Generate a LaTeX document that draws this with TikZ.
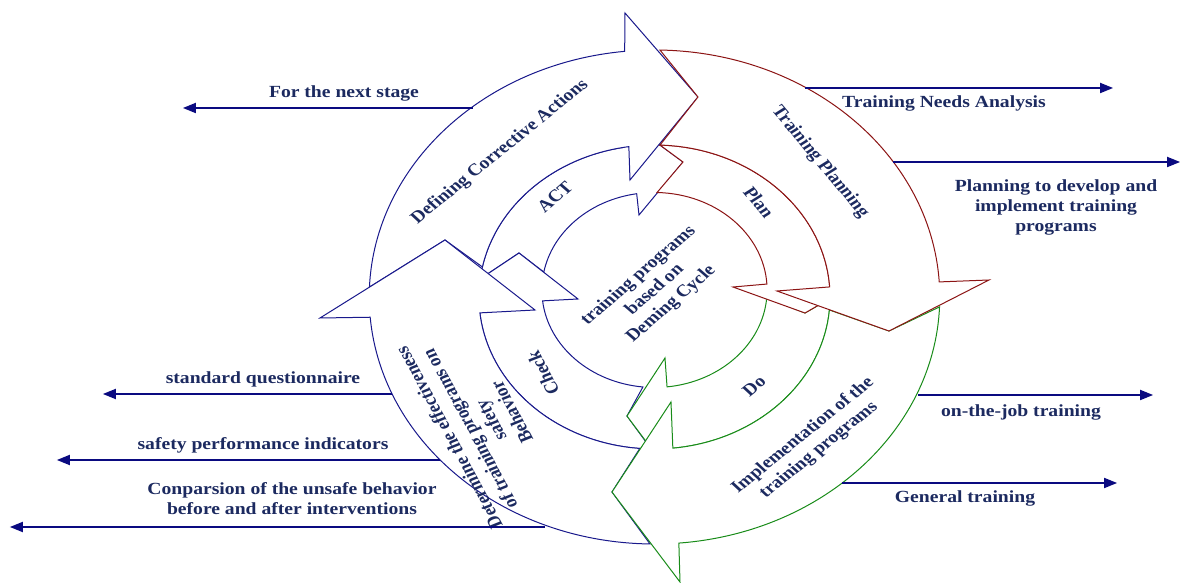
\documentclass[tikz,border=0pt]{standalone}
\usepackage{fontspec}
\setmainfont{Liberation Serif}
\usetikzlibrary{arrows.meta}
\definecolor{txt}{RGB}{28,42,96}
\definecolor{lead}{RGB}{10,10,128}
\definecolor{bl}{RGB}{25,25,140}
\definecolor{rd}{RGB}{140,20,20}
\definecolor{gn}{RGB}{25,140,25}
\def\pxparse#1,#2\relax{\pgfmathsetmacro\pxX{(#1-654.5)/1.155}\pgfmathsetmacro\pxY{297-(#2)}\pgfpointxy{\pxX}{\pxY}}
\tikzdeclarecoordinatesystem{px}{\pxparse#1\relax}
\begin{document}
\begin{tikzpicture}[x=1pt,y=1pt,xscale=1.155,
 band/.style={fill=white,line width=1pt,line join=miter,miter limit=20},
 lab/.style={text=txt,font=\fontsize{17}{20}\selectfont\bfseries,transform shape,inner sep=0pt},
 mlab/.style={lab,align=center},
 leader/.style={draw=lead,line width=1.8pt,-{Triangle[length=13pt,width=10pt]}}]
\fill[white] (px cs:0,0) rectangle (px cs:1181,583);
\useasboundingbox (px cs:0,0) rectangle (px cs:1181,583);
% ---- inner ring (ACT, Check, Do, Plan)
\draw[band,draw=bl] (173.2:152) arc[start angle=173.2,end angle=100,radius=152] -- (px cs:623,118) -- (px cs:683,162) -- (px cs:639,215) -- ([shift={(0,7)}]99.1:97.5) arc[start angle=99.1,end angle=169.4,radius=97.5] -- (px cs:519,253) -- cycle;
\draw[band,draw=bl] (268.9:152) arc[start angle=268.9,end angle=181,radius=152] -- (px cs:453,297) -- (px cs:519,253) -- (px cs:578,299) -- ([shift={(0,7)}]186.4:97.5) arc[start angle=186.4,end angle=264.1,radius=97.5] -- (px cs:627,416) -- cycle;
\draw[band,draw=gn] (-0.6:152) arc[start angle=-0.6,end angle=-85,radius=152] -- (px cs:660,460) -- (px cs:627,416) -- (px cs:665,358) -- ([shift={(0,7)}]-83.6:97.5) arc[start angle=-83.6,end angle=-4.7,radius=97.5] -- (px cs:805,313) -- cycle;
\draw[band,draw=rd] (88.2:152) arc[start angle=88.2,end angle=4.5,radius=152] -- (px cs:850,287) -- (px cs:805,313) -- (px cs:733,287) -- ([shift={(0,7)}]3.5:97.5) arc[start angle=3.5,end angle=88.7,radius=97.5] -- (px cs:683,162) -- cycle;
% ---- outer ring
\draw[band,draw=bl] (177.7:247) arc[start angle=177.7,end angle=96,radius=247] -- (px cs:625,13) -- (px cs:698,97) -- (px cs:630,180) -- (98.4:152) arc[start angle=98.4,end angle=168.6,radius=152] -- (px cs:445,240) -- cycle;
\draw[band,draw=bl] (269.1:247) arc[start angle=269.1,end angle=184.7,radius=247] -- (px cs:320,318) -- (px cs:445,240) -- (px cs:535,310) -- (186:152) arc[start angle=186,end angle=265.2,radius=152] -- (px cs:612,492) -- cycle;
\draw[band,draw=gn] (-2.3:247) arc[start angle=-2.3,end angle=-85.1,radius=247] -- (px cs:680,582) -- (px cs:612,492) -- (px cs:671,402) -- (-84:152) arc[start angle=-84,end angle=-4.9,radius=152] -- (px cs:889,331) -- cycle;
\draw[band,draw=rd] (88.9:247) arc[start angle=88.9,end angle=3.5,radius=247] -- (px cs:989,280) -- (px cs:889,331) -- (px cs:777,291) -- (3.8:152) arc[start angle=3.8,end angle=88.2,radius=152] -- (px cs:698,97) -- cycle;
% ---- texts in the cycle
\node[lab,rotate=43] (tdca) at (px cs:500,152) {Defining Corrective Actions};
\node[lab,rotate=45] (tact) at (px cs:555,197) {ACT};
\node[lab,rotate=-54] (ttp) at (px cs:820,162) {Training Planning};
\node[lab,rotate=-54] (tplan) at (px cs:759,202) {Plan};
\node[mlab,rotate=45] (tcen) at (px cs:655,290) {training programs\\based on\\Deming Cycle};
\node[lab,rotate=43] (tdo) at (px cs:754,386) {Do};
\node[mlab,rotate=43] (timp) at (px cs:811,443) {Implementation of the\\training programs};
\node[lab,rotate=114] (tchk) at (px cs:543,373) {Check};
\node[mlab,rotate=115] (tdet) at (px cs:480,425) {Determine the effectiveness\\of training programs on\\safety\\Behavior};
% ---- side labels
\node[lab,anchor=base] (lnext) at (px cs:344,98) {For the next stage};
\node[lab,anchor=base] (ltna) at (px cs:944,108) {Training Needs Analysis};
\node[mlab] (lplan) at (px cs:1056,207) {Planning to develop and\\implement training\\programs};
\node[lab,anchor=base] (lsq) at (px cs:263,384) {standard questionnaire};
\node[lab,anchor=base] (lspi) at (px cs:263,450) {safety performance indicators};
\node[mlab] (lcomp) at (px cs:292,499) {Conparsion of the unsafe behavior\\before and after interventions};
\node[lab,anchor=base] (ljob) at (px cs:1021,417) {on-the-job training};
\node[lab,anchor=base] (lgen) at (px cs:965,503) {General training};
% ---- leader arrows
\coordinate (a1s) at (px cs:473,108); \coordinate (a1e) at (px cs:183,108);
\coordinate (a2s) at (px cs:805,88); \coordinate (a2e) at (px cs:1113,88);
\coordinate (a3s) at (px cs:893,162); \coordinate (a3e) at (px cs:1180,162);
\coordinate (a4s) at (px cs:392,394); \coordinate (a4e) at (px cs:103,394);
\coordinate (a5s) at (px cs:440,460); \coordinate (a5e) at (px cs:57,460);
\coordinate (a6s) at (px cs:545,527); \coordinate (a6e) at (px cs:10,527);
\coordinate (a7s) at (px cs:918,395); \coordinate (a7e) at (px cs:1153,395);
\coordinate (a8s) at (px cs:842,483); \coordinate (a8e) at (px cs:1117,483);
\foreach \i in {1,...,8} {\draw[leader] (a\i s) -- (a\i e);}
\end{tikzpicture}
\end{document}
